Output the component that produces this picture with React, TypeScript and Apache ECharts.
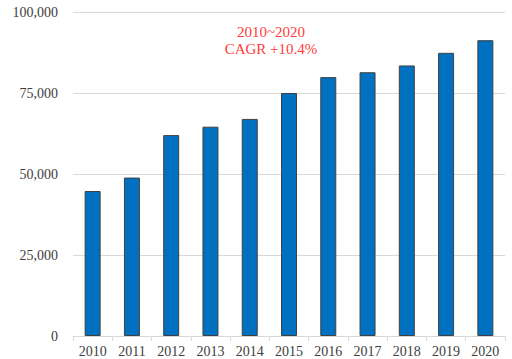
import React, { useEffect, useRef } from "react";
import * as echarts from "echarts";

const years = ["2010", "2011", "2012", "2013", "2014", "2015", "2016", "2017", "2018", "2019", "2020"];
const values = [44750, 48900, 62000, 64600, 67000, 75000, 79900, 81400, 83500, 87400, 91300];
const annotationLines = ["2010~2020", "CAGR +10.4%"];

const FONT = "'Liberation Serif', 'Times New Roman', serif";

export default function App() {
  const ref = useRef<HTMLDivElement>(null);
  useEffect(() => {
    if (!ref.current) return;
    const chart = echarts.init(ref.current, undefined, { renderer: "svg" });
    chart.setOption({
      animation: false,
      backgroundColor: "#ffffff",
      grid: { left: 73, right: 7, top: 12, bottom: 23, containLabel: false },
      xAxis: {
        type: "category",
        data: years,
        axisLine: { show: true, lineStyle: { color: "#d9d9d9", width: 1 } },
        axisTick: { show: true, length: 5, lineStyle: { color: "#d9d9d9" } },
        axisLabel: { color: "#404040", fontFamily: FONT, fontSize: 14, margin: 8 },
      },
      yAxis: {
        type: "value",
        min: 0,
        max: 100000,
        interval: 25000,
        axisLine: { show: false },
        axisTick: { show: false },
        splitLine: { lineStyle: { color: "#d9d9d9", width: 1 } },
        axisLabel: {
          color: "#404040",
          fontFamily: FONT,
          fontSize: 14,
          margin: 15,
          formatter: (v: number) => v.toLocaleString("en-US"),
        },
      },
      series: [
        {
          type: "bar",
          data: values,
          barWidth: 16,
          itemStyle: { color: "#0070C0", borderColor: "#404040", borderWidth: 1 },
        },
      ],
      graphic: annotationLines.map((t, i) => ({
        type: "text",
        x: 271,
        y: 32 + i * 17,
        style: {
          text: t,
          fill: "#FF3B3B",
          font: `15px ${FONT}`,
          textAlign: "center",
          textVerticalAlign: "middle",
        },
      })),
    });
    return () => chart.dispose();
  }, []);
  return <div ref={ref} style={{ width: 512, height: 359, position: "fixed", left: 0, top: 0 }} />;
}
